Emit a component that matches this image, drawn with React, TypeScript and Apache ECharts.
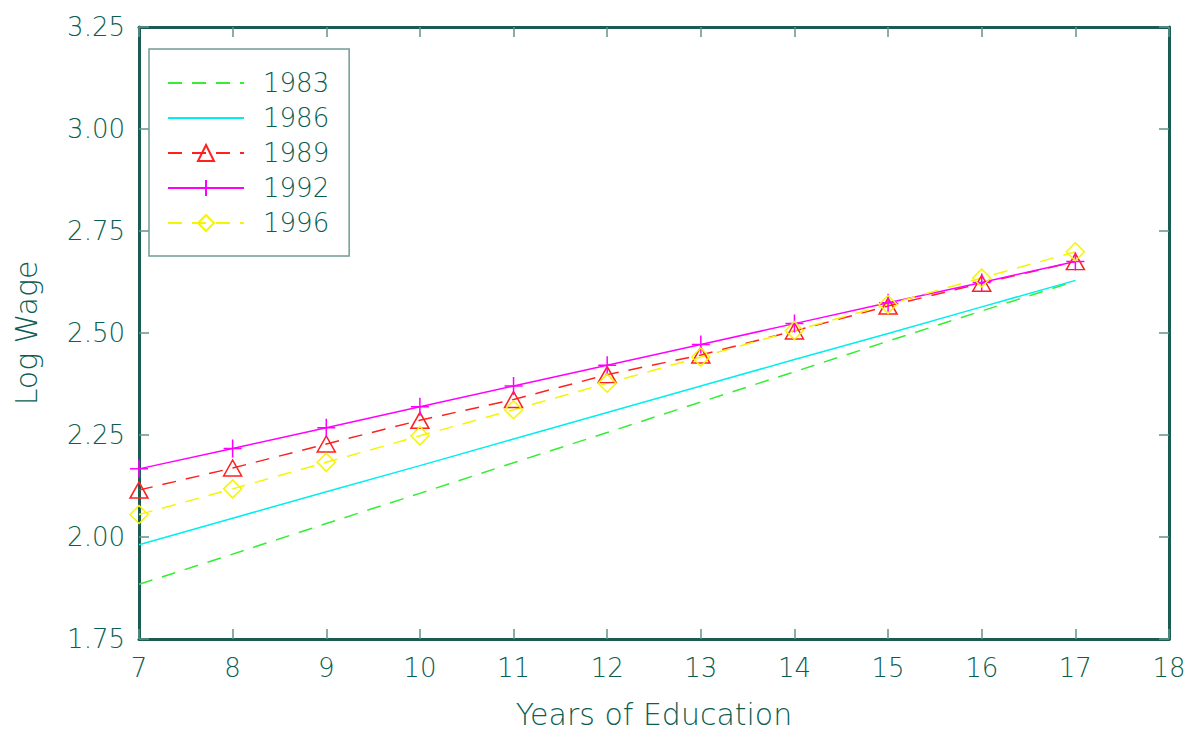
import React, { useEffect, useRef } from "react";
import * as echarts from "echarts";

const years = [7, 8, 9, 10, 11, 12, 13, 14, 15, 16, 17];
const s1983 = [1.884, 1.958, 2.033, 2.107, 2.182, 2.256, 2.331, 2.405, 2.48, 2.554, 2.627];
const s1986 = [1.981, 2.046, 2.111, 2.175, 2.24, 2.305, 2.37, 2.435, 2.499, 2.564, 2.629];
const s1989 = [2.115, 2.169, 2.228, 2.286, 2.337, 2.398, 2.446, 2.505, 2.566, 2.622, 2.675];
const s1992 = [2.167, 2.217, 2.268, 2.319, 2.37, 2.421, 2.472, 2.523, 2.574, 2.624, 2.675];
const s1996 = [2.055, 2.118, 2.183, 2.248, 2.312, 2.377, 2.441, 2.506, 2.57, 2.635, 2.699];

const TEAL = "#0b5e52";
const AXIS = "#1a5c52";
const TICK = "#5e958c";
const FONT = "DejaVu Sans";

const pairs = (ys: number[]) => years.map((x, i) => [x, ys[i]]);

export default function App() {
  const ref = useRef<HTMLDivElement>(null);
  useEffect(() => {
    if (!ref.current) return;
    const chart = echarts.init(ref.current, null, { renderer: "svg" });
    const axisLine = { show: true, lineStyle: { color: AXIS, width: 3 } };
    const axisTick = { show: true, inside: true, length: 10, lineStyle: { color: TICK, width: 1.5 } };
    const labelStyle = { color: TEAL, fontSize: 26, fontFamily: FONT, fontWeight: 200 as any };
    const nameStyle = { color: TEAL, fontSize: 30, fontFamily: FONT, fontWeight: 200 as any };
    chart.setOption({
      animation: false,
      backgroundColor: "#ffffff",
      grid: { left: 139, right: 20, top: 27, bottom: 91, containLabel: false },
      xAxis: [
        {
          type: "value", min: 7, max: 18, interval: 1, position: "bottom",
          axisLine, axisTick, splitLine: { show: false },
          axisLabel: { ...labelStyle, margin: 16 },
          name: "Years of Education", nameLocation: "middle", nameGap: 60,
          nameTextStyle: nameStyle,
        },
        {
          type: "value", min: 7, max: 18, interval: 1, position: "top",
          axisLine, axisTick, splitLine: { show: false }, axisLabel: { show: false },
        },
      ],
      yAxis: [
        {
          type: "value", min: 1.75, max: 3.25, interval: 0.25, position: "left",
          axisLine, axisTick, splitLine: { show: false },
          axisLabel: { ...labelStyle, margin: 14, formatter: (v: number) => v.toFixed(2) },
          name: "Log Wage", nameLocation: "middle", nameGap: 98, nameRotate: 90,
          nameTextStyle: nameStyle,
        },
        {
          type: "value", min: 1.75, max: 3.25, interval: 0.25, position: "right",
          axisLine, axisTick, splitLine: { show: false }, axisLabel: { show: false },
        },
      ],
      legend: {
        orient: "vertical", left: 149, top: 49,
        padding: [21, 20, 20, 18], itemGap: 9, itemWidth: 76, itemHeight: 20,
        backgroundColor: "#ffffff", borderColor: "#6e9c94", borderWidth: 1.5, borderRadius: 0,
        textStyle: { color: TEAL, fontSize: 26, fontFamily: FONT, fontWeight: 200, lineHeight: 26, padding: [0, 0, 0, 14] },
        data: [
          { name: "1983", itemStyle: { opacity: 0 } },
          { name: "1986", itemStyle: { opacity: 0 } },
          "1989",
          "1992",
          "1996",
        ],
      },
      series: [
        {
          name: "1983", type: "line", data: pairs(s1983), showSymbol: false, symbol: "none",
          lineStyle: { color: "#33ee33", width: 1.5, type: [14, 10] }, itemStyle: { color: "#33ee33" },
        },
        {
          name: "1986", type: "line", data: pairs(s1986), showSymbol: false, symbol: "none",
          lineStyle: { color: "#00eeee", width: 1.5 }, itemStyle: { color: "#00eeee" },
        },
        {
          name: "1989", type: "line", data: pairs(s1989), symbol: "triangle", symbolSize: [18, 16],
          lineStyle: { color: "#ff2020", width: 1.5, type: [14, 10] },
          itemStyle: { color: "transparent", borderColor: "#ff2020", borderWidth: 1.5 },
        },
        {
          name: "1992", type: "line", data: pairs(s1992),
          symbol: "path://M5,0 L5,10 M0,5 L10,5", symbolSize: [18, 18],
          lineStyle: { color: "#ff00ff", width: 1.5 },
          itemStyle: { color: "transparent", borderColor: "#ff00ff", borderWidth: 1.5 },
        },
        {
          name: "1996", type: "line", data: pairs(s1996), symbol: "diamond", symbolSize: [18, 18],
          lineStyle: { color: "#f5f500", width: 1.5, type: [14, 10] },
          itemStyle: { color: "transparent", borderColor: "#f5f500", borderWidth: 1.5 },
        },
      ],
    });
    return () => chart.dispose();
  }, []);
  return <div ref={ref} style={{ position: "absolute", left: 0, top: 0, width: 1189, height: 734 }} />;
}
